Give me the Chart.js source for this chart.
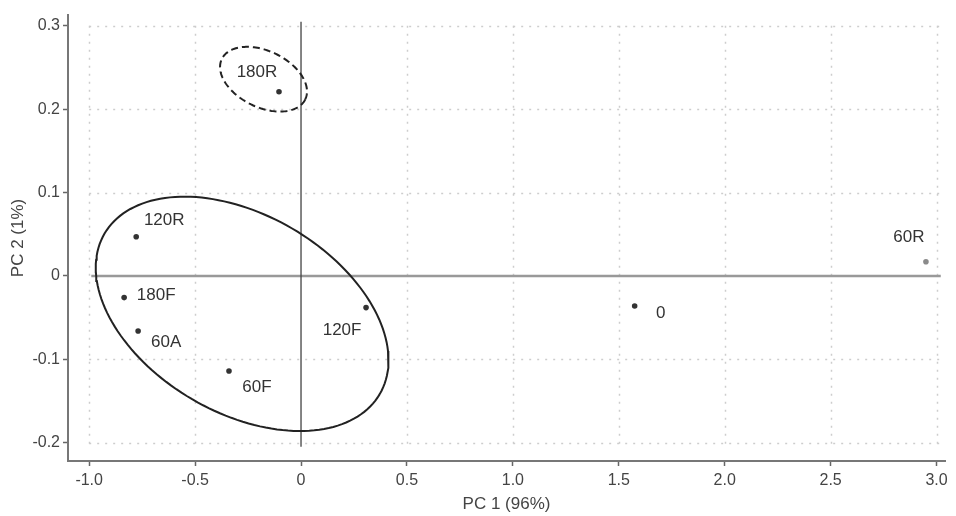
<!DOCTYPE html>
<html>
<head>
<meta charset="utf-8">
<script src="https://cdn.jsdelivr.net/npm/chart.js@4/dist/chart.umd.min.js"></script>
<style>
  html, body { margin: 0; background: #fff; }
</style>
</head>
<body>
<canvas id="grafico-pca" width="956" height="516"></canvas>
<script>
// muestras y sus coordenadas en los dos primeros componentes
const muestras = ['180R', '120R', '180F', '60A', '60F', '120F', '0', '60R'];
const pc1 = [-0.104, -0.778, -0.835, -0.769, -0.340, 0.307, 1.575, 2.95];
const pc2 = [0.221, 0.047, -0.026, -0.066, -0.114, -0.038, -0.036, 0.017];

const ticksX = [-1.0, -0.5, 0, 0.5, 1.0, 1.5, 2.0, 2.5, 3.0];
const ticksY = [-0.2, -0.1, 0, 0.1, 0.2, 0.3];

// elipses: centro y dos semiejes conjugados (unidades de datos)
const elipseGrandeCentro = [-0.278, -0.0455];
const elipseGrandeU = [0.6495, -0.0963];
const elipseGrandeV = [-0.236, -0.1024];
const elipseChicaCentro = [-0.177, 0.236];
const elipseChicaU = [0.1967, -0.0243];
const elipseChicaV = [-0.0585, -0.0303];

// lineas de referencia en cero
const lineaHorizontalX = [-0.99, 3.02];
const lineaVerticalY = [0.305, -0.205];

// extension de la grilla punteada
const grillaX = [-1.0, 3.04];
const grillaY = [-0.207, 0.3];

// desplazamiento de cada etiqueta respecto a su punto (px)
const etiquetaDx = [-22, 28, 32, 28, 28, -24, 26, -17];
const etiquetaDy = [-19, -16, -2, 11, 16, 23, 7, -24];

const fuente = '"Liberation Sans", Arial, sans-serif';

function contorno(centro, u, v) {
  const pts = [];
  for (let i = 0; i <= 160; i++) {
    const t = i / 160 * Math.PI * 2;
    pts.push({
      x: centro[0] + u[0] * Math.cos(t) + v[0] * Math.sin(t),
      y: centro[1] + u[1] * Math.cos(t) + v[1] * Math.sin(t)
    });
  }
  return pts;
}

const puntos = muestras.map((m, i) => ({ x: pc1[i], y: pc2[i] }));

// grilla punteada solo dentro del rango de los ticks
const grilla = {
  id: 'grilla',
  beforeDatasetsDraw(chart) {
    const ctx = chart.ctx;
    const sx = chart.scales.x;
    const sy = chart.scales.y;
    const x0 = sx.getPixelForValue(grillaX[0]);
    const x1 = sx.getPixelForValue(grillaX[1]);
    const y0 = sy.getPixelForValue(grillaY[0]);
    const y1 = sy.getPixelForValue(grillaY[1]);
    ctx.save();
    ctx.strokeStyle = '#cdcdcd';
    ctx.lineWidth = 1.5;
    ctx.setLineDash([2, 6]);
    ticksX.filter(v => v !== 0).forEach(v => {
      const px = Math.round(sx.getPixelForValue(v)) + 0.5;
      ctx.beginPath();
      ctx.moveTo(px, y1);
      ctx.lineTo(px, y0);
      ctx.stroke();
    });
    ticksY.filter(v => v !== 0).forEach(v => {
      const py = Math.round(sy.getPixelForValue(v)) + 0.5;
      ctx.beginPath();
      ctx.moveTo(x0, py);
      ctx.lineTo(x1, py);
      ctx.stroke();
    });
    ctx.restore();
  }
};

const etiquetas = {
  id: 'etiquetas',
  afterDatasetsDraw(chart) {
    const ctx = chart.ctx;
    const sx = chart.scales.x;
    const sy = chart.scales.y;
    ctx.save();
    ctx.font = '17px ' + fuente;
    ctx.fillStyle = '#333';
    ctx.textAlign = 'center';
    ctx.textBaseline = 'middle';
    muestras.forEach((m, i) => {
      const px = sx.getPixelForValue(pc1[i]);
      const py = sy.getPixelForValue(pc2[i]);
      ctx.fillText(m, px + etiquetaDx[i], py + etiquetaDy[i]);
    });
    ctx.restore();
  }
};

const gridEje = {
  drawOnChartArea: false,
  tickColor: '#666',
  tickLength: 5,
  tickWidth: 1.5
};

new Chart(document.getElementById('grafico-pca'), {
  type: 'scatter',
  data: {
    datasets: [
      {
        data: puntos,
        pointRadius: 2.8,
        pointBackgroundColor: muestras.map(m => m === '60R' ? '#8a8a8a' : '#333'),
        pointBorderWidth: 0,
        showLine: false
      },
      {
        data: contorno(elipseChicaCentro, elipseChicaU, elipseChicaV),
        showLine: true,
        pointRadius: 0,
        borderColor: '#222',
        borderWidth: 2,
        borderDash: [7, 4],
        tension: 0
      },
      {
        data: contorno(elipseGrandeCentro, elipseGrandeU, elipseGrandeV),
        showLine: true,
        pointRadius: 0,
        borderColor: '#222',
        borderWidth: 2,
        tension: 0
      },
      {
        data: lineaVerticalY.map(y => ({ x: 0, y })),
        showLine: true,
        pointRadius: 0,
        borderColor: '#444',
        borderWidth: 1.3
      },
      {
        data: lineaHorizontalX.map(x => ({ x, y: 0 })),
        showLine: true,
        pointRadius: 0,
        borderColor: '#999',
        borderWidth: 2.5
      }
    ]
  },
  options: {
    responsive: false,
    animation: false,
    layout: { padding: { top: 15, right: 11, left: 0, bottom: 0 } },
    plugins: {
      legend: { display: false },
      tooltip: { enabled: false }
    },
    scales: {
      x: {
        type: 'linear',
        min: -1.1,
        max: 3.04,
        afterBuildTicks: s => { s.ticks = ticksX.map(v => ({ value: v })); },
        afterFit: s => { s.height = 55; },
        ticks: {
          font: { family: fuente, size: 16 },
          color: '#444',
          padding: 5,
          maxRotation: 0,
          callback: v => v === 0 ? '0' : v.toFixed(1)
        },
        grid: gridEje,
        border: { display: true, color: '#777', width: 2 },
        title: {
          display: true,
          text: 'PC 1 (96%)',
          font: { family: fuente, size: 17 },
          color: '#444',
          padding: { top: 0, bottom: 1 }
        }
      },
      y: {
        type: 'linear',
        min: -0.222,
        max: 0.313,
        afterBuildTicks: s => { s.ticks = ticksY.map(v => ({ value: v })); },
        afterFit: s => { s.width = 68; },
        ticks: {
          font: { family: fuente, size: 16 },
          color: '#444',
          padding: 3,
          callback: v => v === 0 ? '0' : v.toFixed(1)
        },
        grid: gridEje,
        border: { display: true, color: '#777', width: 2 },
        title: {
          display: true,
          text: 'PC 2 (1%)',
          font: { family: fuente, size: 17 },
          color: '#444',
          padding: { top: 8, bottom: 0 }
        }
      }
    }
  },
  plugins: [grilla, etiquetas]
});
</script>
</body>
</html>
